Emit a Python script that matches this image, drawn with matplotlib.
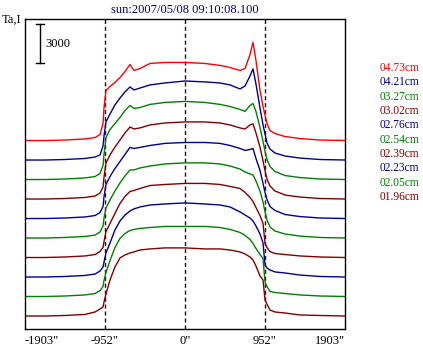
import numpy as np
import matplotlib
matplotlib.use("Agg")
import matplotlib.pyplot as plt

plt.rcParams['font.family'] = ['Liberation Serif', 'DejaVu Serif']

# position along the scan (arcsec)
pos = [-1903, -1665, -1427, -1189, -1070, -1011, -975, -963, -940, -892, -833, -773,
       -714, -654, -607, -535, -416, -238, 0, 238, 416, 535, 654, 714,
       773, 809, 844, 892, 928, 952, 975, 1011, 1070, 1189, 1368, 1606, 1903]

labels = ['04.73cm', '04.21cm', '03.27cm', '03.02cm', '02.76cm',
          '02.54cm', '02.39cm', '02.23cm', '02.05cm', '01.96cm']
offsets = [13500, 12000, 10500, 9000, 7500, 6000, 4500, 3000, 1500, 0]

ta_473 = [0, 0, 40, 120, 230, 460, 1310, 2540, 3850, 4160, 4470, 4850,
          5310, 5850, 5390, 5540, 5930, 6010, 6010, 5930, 5780, 5620, 5390, 5540,
          6620, 7550, 6160, 3850, 2620, 1930, 1310, 770, 540, 310, 150, 40, 0]
ta_421 = [0, 0, 40, 120, 230, 390, 1080, 1850, 2930, 3540, 4240, 4770,
          5240, 5620, 5390, 5540, 5780, 5930, 6080, 6010, 5930, 5780, 5470, 5700,
          6470, 7010, 5850, 4000, 2700, 2000, 1310, 850, 540, 310, 150, 40, 0]
ta_327 = [0, 0, 40, 120, 230, 460, 1080, 1930, 3230, 3850, 4310, 4770,
          5310, 5700, 5470, 5540, 5780, 5930, 6010, 5930, 5780, 5620, 5390, 5240,
          5700, 5850, 5240, 4000, 2930, 2160, 1540, 1000, 620, 310, 150, 40, 0]
ta_302 = [0, 0, 40, 120, 230, 460, 920, 1690, 2770, 3390, 4000, 4540,
          5080, 5540, 5390, 5470, 5700, 5850, 5930, 5930, 5850, 5700, 5470, 5390,
          5700, 5780, 5080, 4000, 2930, 2160, 1540, 1000, 620, 310, 150, 40, 0]
ta_276 = [0, 0, 40, 120, 230, 460, 920, 1690, 2620, 3230, 3850, 4390,
          4930, 5470, 5390, 5470, 5620, 5780, 5850, 5850, 5780, 5620, 5390, 5240,
          5310, 5390, 4620, 3700, 2700, 2000, 1460, 920, 620, 310, 150, 40, 0]
ta_254 = [0, 0, 40, 120, 230, 460, 920, 1540, 2310, 2930, 3620, 4240,
          4770, 5240, 5240, 5390, 5540, 5700, 5780, 5780, 5700, 5540, 5310, 5080,
          4930, 4850, 4390, 3620, 2770, 2000, 1390, 850, 540, 310, 150, 40, 0]
ta_239 = [0, 0, 40, 120, 230, 460, 770, 1230, 2000, 2620, 3390, 4160,
          4700, 5080, 5160, 5310, 5540, 5620, 5700, 5700, 5620, 5470, 5310, 5010,
          4620, 4310, 3850, 3230, 2620, 1080, 770, 460, 310, 230, 120, 40, 0]
ta_223 = [0, 0, 40, 120, 230, 460, 770, 1160, 1850, 2620, 3620, 4310,
          4770, 5080, 5240, 5390, 5540, 5620, 5700, 5620, 5540, 5390, 5010, 4770,
          4540, 4310, 3930, 3310, 2620, 920, 690, 540, 390, 310, 150, 40, 0]
ta_205 = [0, 0, 40, 120, 230, 460, 770, 1230, 1850, 2770, 3770, 4470,
          4850, 5080, 5160, 5240, 5310, 5390, 5390, 5390, 5310, 5160, 4930, 4700,
          4390, 4080, 3700, 3230, 2930, 1080, 770, 390, 310, 230, 120, 40, 0]
ta_196 = [0, 0, 40, 120, 310, 540, 690, 1080, 1690, 2770, 3770, 4470,
          4700, 4850, 4930, 5080, 5160, 5240, 5240, 5160, 5160, 5080, 4930, 4770,
          4540, 4310, 3850, 3080, 2770, 1230, 920, 460, 310, 230, 80, 40, 0]

series = [ta_473, ta_421, ta_327, ta_302, ta_276, ta_254, ta_239, ta_223, ta_205, ta_196]

xticks = [-1903, -952, 0, 952, 1903]
xticklabels = ['-1903"', '-952"', '0"', '952"', '1903"']
scale_value = 3000
title = 'sun:2007/05/08 09:10:08.100'

RED, BLUE, GREEN, DRED = '#ff0000', '#000094', '#008000', '#800000'
colors = [RED, BLUE, GREEN, DRED, BLUE, GREEN, DRED, BLUE, GREEN, DRED]

W, H = 423, 347
fig = plt.figure(figsize=(W / 100, H / 100), dpi=100)
ax = fig.add_axes([25 / W, (H - 329) / H, 320 / W, 310 / H])

for ta, off, c in zip(series, offsets, colors):
    ax.plot(pos, np.array(ta) + off, color=c, lw=1.0)

for xv in xticks[1:4]:
    ax.axvline(xv, color='#4a0000', lw=1.0, ls=(0, (3, 2)), zorder=0)

# scale bar
sb_x, sb_top = -1725, 22460
ax.plot([sb_x, sb_x], [sb_top - scale_value, sb_top], color='black', lw=1.0)
for yy in (sb_top - scale_value, sb_top):
    ax.plot([sb_x - 50, sb_x + 50], [yy, yy], color='black', lw=1.0)
ax.text(sb_x + 70, sb_top - scale_value / 2, str(scale_value), fontsize=9,
        va='center', ha='left')

ax.set_xlim(-1903, 1903)
ax.set_ylim(-1000, 22850)
ax.set_yticks([])
ax.set_xticks(xticks)
ax.set_xticklabels(xticklabels, fontsize=9)
ax.tick_params(axis='x', length=0, pad=4)
tl = ax.get_xticklabels()
tl[0].set_horizontalalignment('left')
tl[-1].set_horizontalalignment('right')
for s in ax.spines.values():
    s.set_linewidth(1.0)

fig.text(185 / W, 1 - 10 / H, title, ha='center', va='center', fontsize=9, color='#000080')
fig.text(2 / W, 1 - 20 / H, 'Ta,I', ha='left', va='center', fontsize=9)

for i, (lab, c) in enumerate(zip(labels, colors)):
    fig.text(380 / W, 1 - (68 + i * 14.33) / H, lab, color=c, fontsize=8.3,
             ha='left', va='center')

fig.savefig('out.png', dpi=100)
